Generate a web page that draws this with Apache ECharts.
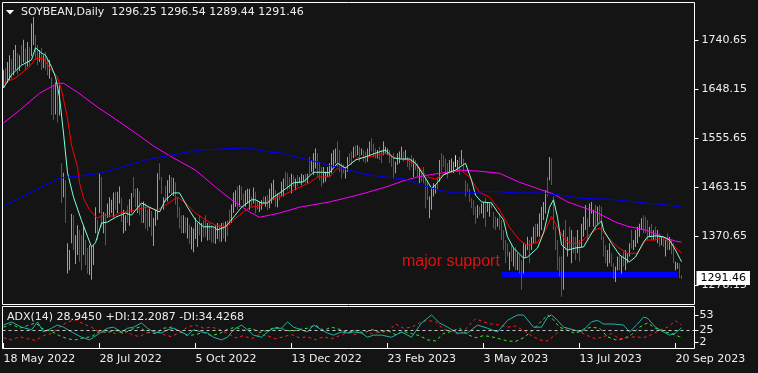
<!DOCTYPE html>
<html><head><meta charset="utf-8">
<script src="https://cdn.jsdelivr.net/npm/echarts@6/dist/echarts.min.js"></script>
<style>html,body{margin:0;padding:0;background:#141414;}#c{width:758px;height:373px;}</style>
</head><body><div id="c"></div>
<script>
const symbolTitle = 'SOYBEAN,Daily  1296.25 1296.54 1289.44 1291.46';
const adxTitle = 'ADX(14) 28.9450 +DI:12.2087 -DI:34.4268';
const noteText = 'major support';
const dateLabels = ['18 May 2022','28 Jul 2022','5 Oct 2022','13 Dec 2022','23 Feb 2023','3 May 2023','13 Jul 2023','20 Sep 2023'];
const dateStep = 48;
const slotCount = 346;
const priceTicks = [1278.15,1370.65,1463.15,1555.65,1648.15,1740.65];
const priceRange = [1242.28,1812.39];
const adxTicks = [2,25,53];
const adxRange = [-9.33,70];
const adxLevel = 25;
const lastPrice = 1291.46;
const supportBand = [1293.3,1302.7];
const supportSpan = [249,337];

const opens = [
1655,1680,1662,1688,1700,1676,1712,1712,1686,1722,1700,1718,1692,1726,1712,1745,1748,1725,1702,1720,
1692,1712,1698,1678,1668,1645,1605,1640,1600,1505,1446,1476,1320,1320,1365,1400,1325,1350,1378,1365,
1340,1360,1340,1305,1300,1318,1385,1398,1418,1480,1390,1410,1408,1412,1418,1410,1445,1418,1440,1440,
1385,1390,1412,1395,1420,1478,1452,1418,1450,1420,1400,1425,1410,1392,1415,1370,1395,1405,1505,1478,
1422,1460,1440,1455,1478,1450,1470,1440,1420,1395,1380,1400,1372,1390,1352,1360,1372,1375,1405,1372,
1395,1405,1368,1390,1385,1380,1360,1370,1388,1365,1392,1370,1395,1410,1400,1420,1430,1462,1428,1460,
1445,1430,1440,1425,1442,1435,1450,1436,1420,1422,1443,1428,1445,1426,1438,1445,1455,1430,1450,1448,
1450,1490,1485,1480,1455,1484,1460,1484,1472,1470,1475,1486,1474,1515,1494,1490,1505,1522,1505,1495,
1472,1475,1484,1485,1492,1505,1512,1540,1525,1505,1500,1482,1495,1525,1528,1520,1538,1524,1535,1525,
1530,1525,1512,1525,1550,1540,1530,1518,1535,1528,1526,1530,1526,1530,1520,1522,1492,1508,1510,1518,
1528,1515,1518,1514,1520,1486,1512,1505,1474,1492,1498,1480,1470,1408,1424,1448,1453,1478,1475,1522,
1520,1512,1500,1490,1495,1494,1510,1495,1515,1506,1512,1470,1468,1460,1440,1435,1422,1405,1424,1415,
1408,1435,1418,1410,1433,1412,1402,1390,1410,1398,1380,1360,1352,1310,1350,1318,1346,1310,1332,1322,
1302,1336,1348,1360,1346,1360,1390,1370,1372,1390,1405,1415,1476,1480,1515,1445,1385,1362,1325,1320,
1275,1395,1340,1380,1330,1365,1365,1342,1360,1358,1372,1385,1400,1390,1415,1392,1425,1398,1425,1420,
1365,1350,1318,1325,1335,1315,1290,1310,1335,1305,1338,1312,1325,1336,1378,1348,1355,1362,1372,1385,
1405,1402,1395,1372,1390,1366,1385,1360,1372,1355,1365,1336,1372,1348,1360,1350,1308,1310,1316,1296.25];
const highs = [
1684,1688,1699,1712,1705,1722,1731,1716,1712,1731,1741,1724,1737,1727,1772,1784,1750,1731,1722,1726,
1712,1718,1706,1703,1670,1656,1661,1646,1656,1508,1490,1476,1357,1344,1412,1410,1372,1391,1382,1372,
1391,1363,1348,1353,1350,1353,1425,1401,1489,1482,1416,1414,1432,1444,1439,1453,1454,1454,1464,1443,
1420,1410,1428,1440,1452,1482,1460,1461,1455,1430,1436,1432,1420,1425,1418,1405,1420,1489,1508,1482,
1444,1465,1476,1486,1482,1480,1472,1444,1425,1410,1410,1406,1405,1392,1388,1385,1405,1395,1410,1395,
1400,1410,1395,1395,1391,1387,1391,1395,1392,1395,1396,1398,1400,1420,1430,1453,1457,1464,1467,1464,
1451,1457,1460,1460,1445,1462,1454,1438,1435,1438,1445,1445,1448,1460,1470,1477,1457,1451,1451,1473,
1479,1492,1490,1482,1488,1486,1479,1486,1482,1488,1486,1488,1488,1520,1514,1527,1536,1527,1511,1501,
1501,1492,1501,1508,1527,1533,1536,1549,1533,1508,1505,1501,1520,1527,1530,1539,1542,1542,1539,1536,
1533,1530,1536,1549,1555,1545,1536,1533,1539,1533,1549,1539,1536,1533,1523,1527,1511,1527,1530,1539,
1530,1533,1520,1517,1523,1517,1514,1508,1501,1495,1501,1482,1476,1445,1460,1470,1467,1482,1514,1527,
1523,1517,1508,1514,1517,1511,1523,1514,1520,1533,1517,1476,1470,1460,1442,1438,1426,1429,1426,1432,
1435,1442,1435,1432,1435,1416,1407,1404,1413,1401,1382,1363,1357,1341,1353,1347,1350,1338,1335,1325,
1357,1354,1369,1363,1369,1388,1394,1394,1413,1426,1435,1457,1482,1520,1517,1445,1388,1363,1332,1332,
1382,1401,1369,1388,1382,1369,1369,1382,1363,1394,1407,1429,1404,1432,1435,1420,1429,1426,1429,1426,
1369,1353,1344,1357,1338,1319,1313,1332,1338,1332,1341,1344,1338,1357,1382,1363,1382,1388,1394,1404,
1410,1407,1401,1388,1394,1382,1388,1382,1376,1369,1369,1363,1376,1369,1363,1357,1322,1320,1319,1296.54];
const lows = [
1650,1656,1660,1665,1668,1674,1684,1676,1682,1693,1698,1684,1690,1692,1710,1731,1703,1693,1699,1684,
1688,1684,1674,1668,1599,1590,1600,1585,1598,1433,1444,1395,1300,1306,1357,1344,1318,1335,1322,1306,
1335,1316,1300,1297,1288,1316,1376,1363,1414,1388,1376,1353,1405,1406,1414,1406,1420,1414,1432,1397,
1376,1380,1395,1390,1415,1444,1425,1414,1410,1395,1395,1385,1380,1388,1370,1352,1390,1401,1476,1450,
1420,1435,1436,1452,1450,1446,1430,1405,1385,1376,1376,1376,1366,1356,1345,1340,1365,1350,1372,1360,
1368,1369,1362,1363,1359,1357,1356,1365,1360,1360,1366,1360,1370,1391,1395,1414,1426,1420,1426,1438,
1426,1426,1432,1420,1426,1432,1413,1420,1416,1420,1432,1426,1420,1423,1432,1438,1426,1425,1438,1445,
1445,1464,1457,1460,1451,1464,1457,1464,1470,1467,1473,1470,1470,1486,1492,1486,1498,1482,1476,1464,
1470,1473,1482,1482,1489,1501,1508,1501,1492,1479,1489,1479,1492,1508,1505,1518,1520,1523,1511,1523,
1511,1508,1511,1523,1530,1520,1517,1517,1514,1508,1523,1527,1523,1508,1501,1479,1489,1505,1508,1517,
1511,1514,1501,1495,1501,1482,1495,1482,1470,1473,1470,1423,1438,1404,1420,1445,1451,1457,1473,1492,
1501,1486,1479,1489,1492,1489,1501,1492,1486,1505,1495,1445,1454,1435,1423,1410,1394,1404,1410,1413,
1404,1388,1416,1407,1423,1385,1382,1388,1382,1363,1344,1319,1332,1306,1322,1313,1306,1306,1300,1269,
1300,1332,1344,1319,1344,1357,1357,1369,1369,1382,1401,1413,1445,1476,1467,1382,1344,1306,1294,1256,
1269,1344,1332,1344,1319,1338,1325,1338,1322,1350,1369,1382,1363,1388,1413,1388,1382,1394,1398,1363,
1332,1319,1313,1319,1313,1290,1284,1306,1306,1300,1313,1306,1319,1332,1347,1344,1350,1357,1369,1382,
1376,1376,1363,1369,1363,1363,1363,1357,1350,1353,1350,1332,1344,1344,1336,1319,1306,1309,1291,1289.44];
const closes = [
1678,1662,1690,1705,1675,1715,1725,1684,1705,1698,1735,1690,1728,1700,1762,1775,1710,1700,1716,1692,
1708,1688,1680,1698,1610,1598,1650,1592,1645,1440,1480,1400,1350,1335,1405,1352,1366,1385,1330,1312,
1382,1322,1306,1345,1342,1348,1418,1370,1480,1395,1410,1360,1428,1438,1432,1446,1425,1448,1458,1402,
1412,1405,1398,1432,1447,1450,1430,1455,1415,1400,1430,1392,1385,1420,1376,1398,1416,1480,1480,1455,
1440,1440,1470,1480,1455,1474,1435,1410,1390,1380,1405,1380,1398,1360,1380,1378,1398,1390,1378,1390,
1372,1372,1390,1368,1362,1360,1386,1390,1365,1388,1370,1394,1375,1395,1425,1448,1452,1425,1460,1442,
1430,1452,1456,1455,1430,1458,1418,1423,1432,1435,1434,1442,1424,1455,1465,1472,1430,1448,1440,1470,
1475,1468,1462,1463,1484,1468,1476,1467,1480,1485,1484,1473,1486,1490,1510,1522,1530,1488,1480,1468,
1496,1490,1498,1504,1522,1528,1532,1508,1498,1484,1492,1498,1515,1510,1508,1535,1523,1538,1515,1533,
1514,1511,1532,1544,1533,1524,1520,1530,1517,1511,1545,1536,1534,1512,1505,1484,1508,1524,1526,1535,
1514,1530,1504,1498,1504,1514,1497,1485,1498,1476,1473,1428,1441,1440,1456,1466,1464,1460,1510,1495,
1504,1490,1482,1510,1514,1508,1510,1510,1490,1528,1498,1450,1457,1438,1426,1413,1398,1425,1412,1430,
1432,1392,1432,1428,1425,1388,1385,1402,1385,1366,1348,1322,1335,1336,1326,1342,1310,1333,1304,1285,
1350,1350,1365,1325,1365,1384,1362,1390,1408,1420,1430,1450,1450,1512,1470,1386,1350,1312,1298,1270,
1376,1350,1365,1350,1376,1342,1330,1378,1328,1388,1402,1424,1368,1428,1432,1416,1386,1422,1402,1368,
1336,1323,1340,1352,1316,1294,1308,1328,1310,1328,1318,1340,1335,1354,1350,1360,1378,1384,1390,1400,
1380,1380,1368,1385,1366,1380,1366,1378,1354,1366,1353,1360,1348,1365,1340,1322,1320,1318,1295,1291.46];

const maFast = [[0,1650],[4,1675],[9,1693],[14,1703],[16,1726],[19,1716],[21,1712],[24,1690],[26,1671],[28,1633],[30,1565],[32,1490],[35,1444],[39,1400],[44,1350],[46,1358],[49,1395],[52,1397],[56,1406],[61,1414],[64,1410],[69,1433],[73,1425],[78,1416],[81,1439],[85,1452],[88,1452],[92,1425],[96,1401],[100,1388],[105,1388],[107,1382],[111,1388],[115,1406],[119,1425],[124,1439],[126,1439],[129,1433],[132,1433],[135,1444],[140,1457],[145,1471],[150,1473],[155,1491],[159,1491],[163,1490],[167,1508],[171,1499],[176,1514],[181,1520],[186,1527],[191,1533],[195,1518],[199,1516],[203,1516],[206,1508],[210,1486],[214,1461],[216,1467],[220,1486],[223,1491],[226,1495],[231,1508],[234,1476],[236,1448],[239,1435],[244,1433],[247,1416],[250,1401],[252,1369],[255,1348],[260,1329],[262,1331],[267,1348],[270,1376],[273,1425],[275,1439],[277,1406],[279,1354],[282,1344],[286,1348],[290,1350],[293,1369],[296,1388],[299,1399],[300,1382],[304,1357],[308,1335],[313,1322],[316,1331],[320,1359],[322,1369],[326,1371],[330,1369],[333,1363],[336,1344],[339,1322]];
const maMid = [[0,1659],[6,1669],[13,1690],[16,1706],[20,1706],[23,1688],[27,1671],[29,1646],[32,1593],[34,1542],[37,1501],[38,1471],[40,1442],[43,1420],[47,1404],[50,1410],[55,1408],[58,1414],[66,1420],[71,1425],[77,1420],[81,1429],[87,1444],[91,1433],[96,1414],[101,1401],[106,1391],[111,1387],[115,1401],[118,1410],[123,1425],[128,1427],[133,1438],[140,1448],[147,1461],[153,1471],[157,1482],[163,1482],[167,1499],[171,1499],[177,1518],[184,1521],[191,1527],[196,1518],[202,1514],[207,1504],[212,1482],[216,1478],[221,1489],[226,1493],[228,1497],[233,1482],[238,1453],[243,1444],[248,1420],[253,1387],[258,1363],[262,1353],[267,1359],[271,1382],[274,1408],[277,1387],[280,1367],[283,1357],[288,1357],[291,1367],[296,1382],[298,1386],[302,1369],[307,1350],[312,1338],[317,1338],[321,1363],[326,1363],[329,1369],[334,1357],[339,1338]];
const maSlow = [[0,1584],[8,1608],[18,1640],[27,1659],[30,1659],[37,1642],[47,1614],[58,1586],[66,1565],[76,1538],[85,1518],[96,1495],[106,1463],[114,1439],[123,1416],[128,1406],[138,1414],[148,1425],[163,1435],[173,1444],[181,1452],[191,1463],[201,1476],[207,1482],[216,1488],[226,1493],[228,1495],[238,1493],[248,1489],[258,1472],[268,1459],[275,1450],[282,1435],[288,1427],[296,1416],[306,1397],[312,1389],[321,1382],[329,1370],[336,1361],[339,1359]];
const maLong = [[0,1427],[13,1452],[28,1480],[38,1484],[48,1489],[56,1497],[71,1514],[83,1523],[98,1533],[122,1537],[133,1529],[140,1527],[143,1523],[157,1510],[163,1504],[173,1495],[181,1487],[191,1482],[201,1478],[209,1467],[216,1459],[224,1452],[231,1452],[243,1455],[258,1452],[268,1452],[278,1448],[288,1442],[304,1440],[311,1437],[321,1433],[332,1429],[339,1425]];

const adx = [[0,34],[4,40],[9,30],[14,25],[17,40],[20,21],[24,28],[27,34],[30,30],[35,19],[39,11],[43,6],[45,11],[49,21],[52,28],[55,30],[59,21],[62,28],[65,30],[69,38],[72,28],[75,21],[79,19],[82,25],[85,28],[89,21],[92,15],[95,25],[99,21],[102,19],[105,11],[109,6],[112,11],[115,25],[119,34],[122,25],[125,15],[129,11],[132,21],[135,28],[139,28],[142,40],[145,30],[149,25],[152,21],[155,34],[159,25],[162,19],[165,15],[169,21],[172,19],[175,21],[179,19],[182,11],[185,15],[189,15],[194,11],[199,21],[204,11],[209,38],[214,53],[218,38],[222,30],[227,19],[232,19],[237,34],[242,28],[247,21],[252,43],[257,53],[260,53],[265,30],[269,30],[272,49],[274,53],[277,43],[280,30],[285,25],[289,21],[294,40],[297,43],[300,36],[305,36],[310,34],[313,21],[317,36],[320,49],[322,47],[326,30],[330,21],[333,15],[336,19],[339,28.945]];
const plusDI = [[0,30],[4,36],[8,28],[12,33],[16,38],[20,26],[24,22],[28,14],[32,8],[36,6],[40,10],[44,12],[48,22],[52,20],[56,24],[60,18],[64,26],[68,30],[72,20],[76,18],[80,28],[84,30],[88,22],[92,14],[96,16],[100,20],[104,14],[108,18],[112,26],[116,30],[120,24],[124,28],[128,20],[132,24],[136,30],[140,26],[144,22],[148,26],[152,28],[156,34],[160,24],[164,30],[168,26],[172,20],[176,24],[180,18],[184,26],[188,20],[192,24],[196,16],[200,22],[204,18],[208,14],[212,6],[216,4],[220,18],[224,22],[228,28],[232,16],[236,10],[240,14],[244,12],[248,8],[252,4],[256,3],[260,10],[264,22],[268,38],[272,53],[274,48],[278,30],[282,24],[286,18],[290,26],[294,30],[298,28],[302,12],[306,6],[310,8],[314,16],[318,30],[322,38],[326,28],[330,22],[334,18],[338,12],[339,12.2087]];
const minusDI = [[0,10],[4,6],[8,12],[12,8],[16,5],[20,14],[24,18],[28,30],[32,40],[36,44],[40,36],[44,30],[48,20],[52,22],[56,18],[60,24],[64,16],[68,12],[72,20],[76,24],[80,16],[84,12],[88,20],[92,30],[96,34],[100,28],[104,30],[108,26],[112,18],[116,10],[120,14],[124,8],[128,16],[132,14],[136,8],[140,12],[144,16],[148,10],[152,12],[156,6],[160,12],[164,8],[168,14],[172,20],[176,16],[180,24],[184,18],[188,22],[192,20],[196,36],[200,28],[204,30],[208,38],[212,43],[216,40],[220,26],[224,22],[228,16],[232,30],[236,46],[240,40],[244,36],[248,34],[252,30],[256,32],[260,24],[264,14],[268,6],[272,4],[276,16],[280,30],[284,26],[288,22],[292,14],[296,8],[300,12],[304,18],[308,8],[312,10],[316,12],[320,10],[324,16],[328,24],[332,30],[336,42],[339,34.4268]];

const upColor = '#37e637', downColor = '#ff1010', dojiColor = '#ffff00';
const font = 'DejaVu Sans';
const textColor = '#eeeeee';

const categories = Array.from({length: slotCount}, (_, i) => String(i));
const barSpan = highs.map((h, i) => h - lows[i]);
const barColor = (i) => closes[i] > opens[i] ? upColor : (closes[i] < opens[i] ? downColor : dojiColor);
const showDate = (idx) => idx % dateStep === 0 && idx / dateStep < dateLabels.length;

const chart = echarts.init(document.getElementById('c'), null, {renderer: 'canvas'});
const lineS = (name, data, color, z, extra) => Object.assign({
  name, type: 'line', data, xAxisIndex: 0, yAxisIndex: 0, symbol: 'none', showSymbol: false,
  lineStyle: {color, width: 1}, z, silent: true, animation: false
}, extra || {});

chart.setOption({
  backgroundColor: '#141414',
  animation: false,
  textStyle: {fontFamily: font},
  grid: [
    {left: 2.5, top: 2, width: 692, height: 302},
    {left: 2.5, top: 306, width: 692, height: 42}
  ],
  xAxis: [
    {type: 'category', gridIndex: 0, data: categories, boundaryGap: true,
     axisLine: {show: false}, axisTick: {show: false}, axisLabel: {show: false}, splitLine: {show: false}},
    {type: 'category', gridIndex: 1, data: categories, boundaryGap: true,
     axisLine: {show: false},
     axisTick: {show: true, alignWithLabel: true, interval: showDate, length: 5, lineStyle: {color: '#ffffff'}},
     axisLabel: {show: true, interval: showDate, align: 'left', margin: 6, color: textColor, fontSize: 11, fontFamily: font,
       formatter: (v, idx) => dateLabels[Math.round(idx / dateStep)] || ''},
     splitLine: {show: false}}
  ],
  yAxis: [
    {type: 'value', gridIndex: 0, position: 'right', min: priceRange[0], max: priceRange[1],
     axisLine: {show: false}, splitLine: {show: false},
     axisTick: {show: true, length: 4, customValues: priceTicks, lineStyle: {color: '#ffffff'}},
     axisLabel: {show: true, customValues: priceTicks, margin: 7, color: textColor, fontSize: 11, fontFamily: font,
       formatter: (v) => Number(v).toFixed(2)}},
    {type: 'value', gridIndex: 1, position: 'right', min: adxRange[0], max: adxRange[1],
     axisLine: {show: false}, splitLine: {show: false},
     axisTick: {show: true, length: 4, customValues: adxTicks, lineStyle: {color: '#ffffff'}},
     axisLabel: {show: true, customValues: adxTicks, margin: 5, color: textColor, fontSize: 11, fontFamily: font,
       formatter: (v) => String(Math.round(v))}}
  ],
  series: [
    {name: 'base', type: 'bar', stack: 'price', xAxisIndex: 0, yAxisIndex: 0, data: lows, barWidth: 1,
     itemStyle: {color: 'rgba(0,0,0,0)'}, silent: true, z: 2},
    {name: 'SOYBEAN', type: 'bar', stack: 'price', xAxisIndex: 0, yAxisIndex: 0, data: barSpan, barWidth: 1,
     itemStyle: {color: (p) => barColor(p.dataIndex)}, silent: true, z: 2},
    lineS('MA slow', maSlow, '#ff00ff', 3),
    lineS('MA mid', maMid, '#ff0000', 4),
    lineS('MA fast', maFast, '#7fffd4', 5),
    lineS('MA long', maLong, '#0000ff', 6, {
      markArea: {silent: true, itemStyle: {color: '#0000ff', opacity: 1},
        data: [[{xAxis: supportSpan[0], yAxis: supportBand[1]}, {xAxis: supportSpan[1], yAxis: supportBand[0]}]]},
      markLine: {silent: true, symbol: 'none', lineStyle: {color: 'rgba(0,0,0,0)', width: 0},
        label: {show: true, position: 'end', distance: 2, formatter: () => lastPrice.toFixed(2),
          color: '#000000', backgroundColor: '#ffffff', padding: [2, 4, 1, 4], fontSize: 11, fontFamily: font},
        data: [{yAxis: lastPrice}]}
    }),
    {name: 'ADX', type: 'line', xAxisIndex: 1, yAxisIndex: 1, data: adx, symbol: 'none', showSymbol: false,
     lineStyle: {color: '#20b2aa', width: 1}, z: 4, silent: true,
     markLine: {silent: true, symbol: 'none', label: {show: false},
       lineStyle: {color: '#c8c8c8', type: [3, 3], width: 1}, data: [{yAxis: adxLevel}]}},
    {name: '+DI', type: 'line', xAxisIndex: 1, yAxisIndex: 1, data: plusDI, symbol: 'none', showSymbol: false,
     lineStyle: {color: '#33ee33', width: 1, type: [3, 3]}, z: 3, silent: true},
    {name: '-DI', type: 'line', xAxisIndex: 1, yAxisIndex: 1, data: minusDI, symbol: 'none', showSymbol: false,
     lineStyle: {color: '#ff2020', width: 1, type: [3, 3]}, z: 3, silent: true}
  ],
  graphic: [
    {type: 'rect', z: 50, silent: true, shape: {x: 2.5, y: 2.5, width: 692, height: 302},
     style: {fill: 'none', stroke: '#ffffff', lineWidth: 1}},
    {type: 'rect', z: 50, silent: true, shape: {x: 2.5, y: 306.5, width: 692, height: 42},
     style: {fill: 'none', stroke: '#ffffff', lineWidth: 1}},
    {type: 'polygon', z: 51, silent: true, shape: {points: [[6, 10], [14, 10], [10, 14.5]]},
     style: {fill: '#ffffff'}},
    {type: 'text', z: 51, silent: true, x: 21, y: 12,
     style: {text: symbolTitle, fill: textColor, font: '11px "DejaVu Sans"', verticalAlign: 'middle'}},
    {type: 'text', z: 51, silent: true, x: 7, y: 317.5,
     style: {text: adxTitle, fill: textColor, font: '11px "DejaVu Sans"', verticalAlign: 'middle'}},
    {type: 'text', z: 51, silent: true, x: 402, y: 262,
     style: {text: noteText, fill: '#e01010', font: '16px "Liberation Sans"', verticalAlign: 'middle'}}
  ]
});
</script></body></html>
